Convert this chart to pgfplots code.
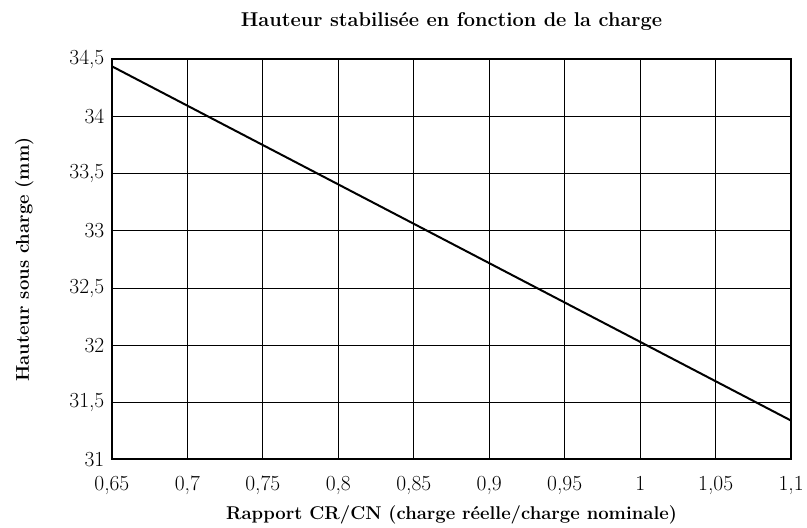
\documentclass[border=0pt]{standalone}
\usepackage{pgfplots}
\pgfplotsset{compat=1.18}
\begin{document}
\begin{tikzpicture}
\begin{axis}[
  scale only axis,
  width=680pt, height=400.5pt,
  xmin=0.65, xmax=1.1, ymin=31, ymax=34.5,
  xtick={0.65,0.7,0.75,0.8,0.85,0.9,0.95,1,1.05,1.1},
  ytick={31,31.5,32,32.5,33,33.5,34,34.5},
  xticklabels={{0,65},{0,7},{0,75},{0,8},{0,85},{0,9},{0,95},{1},{1,05},{1,1}},
  yticklabels={{31},{31,5},{32},{32,5},{33},{33,5},{34},{34,5}},
  major tick length=0pt,
  grid=major,
  grid style={black, line width=0.9pt},
  axis line style={black, line width=2pt},
  ticklabel style={font=\fontsize{21.5}{22}\selectfont},
  xticklabel style={anchor=base, yshift=-31pt},
  yticklabel style={xshift=-4pt},
  title={Hauteur stabilisée en fonction de la charge},
  title style={font=\bfseries\fontsize{20}{22}\selectfont, at={(0.5,1)}, anchor=base, yshift=27pt},
  xlabel={Rapport CR/CN (charge réelle/charge nominale)},
  xlabel style={font=\bfseries\fontsize{18.5}{22}\selectfont, at={(0.5,0)}, anchor=base, yshift=-60pt},
  ylabel={Hauteur sous charge (mm)},
  ylabel style={font=\bfseries\fontsize{18.5}{22}\selectfont, at={(0,0.5)}, anchor=base, yshift=83pt},
  clip=false,
]
\addplot[black, line width=2pt] coordinates {(0.65,34.44) (1.1,31.34)};
\path (rel axis cs:0,0) ++(-112pt,-66pt) rectangle ++(807pt,526pt);
\end{axis}
\end{tikzpicture}
\end{document}
